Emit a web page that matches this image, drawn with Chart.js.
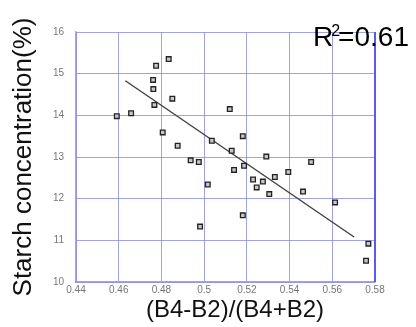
<!DOCTYPE html>
<html>
<head>
<meta charset="utf-8">
<script src="https://cdn.jsdelivr.net/npm/chart.js@4"></script>
<style>
  html, body { margin: 0; padding: 0; background: #fff; }
  #wrap { width: 416px; height: 327px; }
</style>
</head>
<body>
<div id="wrap"><canvas id="canvas-scatter"></canvas></div>
<script>
// ratio values
const ndiX = [0.4591, 0.4658, 0.4775, 0.4834, 0.4761, 0.4762, 0.4767, 0.4851, 0.4806, 0.4876,
  0.4937, 0.4975, 0.5036, 0.5120, 0.5129, 0.5181, 0.5187, 0.5140, 0.5017, 0.5229,
  0.5246, 0.5181, 0.4981, 0.5291, 0.5501, 0.5394, 0.5331, 0.5275, 0.5305, 0.5463,
  0.5613, 0.5769, 0.5758];
const starchY = [13.98, 14.05, 15.19, 15.35, 14.85, 14.63, 14.25, 14.40, 13.59, 13.27,
  12.92, 12.88, 13.39, 14.15, 13.15, 13.50, 12.79, 12.69, 12.34, 12.46,
  12.27, 11.60, 11.33, 13.01, 12.88, 12.64, 12.52, 12.41, 12.11, 12.17,
  11.91, 10.92, 10.51];
const trendX = [0.4631, 0.5702];
const trendY = [14.83, 11.08];
const xTickLabels = ["0.44", "0.46", "0.48", "0.5", "0.52", "0.54", "0.56", "0.58"];
const yTickLabels = ["10", "11", "12", "13", "14", "15", "16"];
const xTitle = "(B4-B2)/(B4+B2)";
const rSquaredValue = "=0.61";

const gridColor = "rgba(130, 130, 230, 0.75)";
const fontFamily = "'Liberation Sans', Arial, sans-serif";

const frameAndLabel = {
  id: "frameAndLabel",
  afterDraw(chart) {
    const { ctx, chartArea } = chart;
    ctx.save();
    // stronger right edge of the frame
    ctx.strokeStyle = "#5a5af0";
    ctx.lineWidth = 2;
    ctx.beginPath();
    ctx.moveTo(chartArea.right, chartArea.top);
    ctx.lineTo(chartArea.right, chartArea.bottom);
    ctx.stroke();

    // x axis title, a little right of the plot centre as in the original
    ctx.fillStyle = "#111";
    ctx.font = "24px " + fontFamily;
    ctx.textAlign = "center";
    ctx.textBaseline = "alphabetic";
    ctx.fillText(xTitle, 235, 317);

    // R² label over the top right corner
    ctx.fillStyle = "#000";
    ctx.textAlign = "left";
    let x = 313;
    const base = chartArea.top + 14;
    ctx.font = "28px " + fontFamily;
    ctx.fillText("R", x, base);
    x += ctx.measureText("R").width - 2;
    ctx.font = "16px " + fontFamily;
    ctx.fillText("2", x, base - 10);
    x += ctx.measureText("2").width - 2;
    ctx.font = "28px " + fontFamily;
    ctx.fillText(rSquaredValue, x, base);
    ctx.restore();
  },
};

const ctx = document.getElementById("canvas-scatter").getContext("2d");
new Chart(ctx, {
  type: "scatter",
  data: {
    datasets: [
      {
        data: ndiX.map((x, i) => ({ x: x, y: starchY[i] })),
        pointStyle: "rect",
        pointRadius: 3.3,
        pointBackgroundColor: "#c8c8c8",
        pointBorderColor: "#222",
        pointBorderWidth: 1.3,
      },
      {
        type: "line",
        data: trendX.map((x, i) => ({ x: x, y: trendY[i] })),
        borderColor: "#444",
        borderWidth: 1.5,
        pointRadius: 0,
        fill: false,
      },
    ],
  },
  options: {
    responsive: true,
    maintainAspectRatio: false,
    animation: false,
    layout: { padding: { top: 32, right: 41, left: 0, bottom: 0 } },
    plugins: { legend: { display: false }, tooltip: { enabled: false } },
    scales: {
      x: {
        type: "linear",
        min: 0.44,
        max: 0.58,
        afterBuildTicks: (scale) => {
          scale.ticks = xTickLabels.map((t) => ({ value: parseFloat(t) }));
        },
        afterFit: (scale) => { scale.height = 45; },
        ticks: {
          color: "#777",
          font: { size: 10, family: fontFamily },
          padding: 2,
          callback: (v, i) => xTickLabels[i],
        },
        grid: { color: gridColor, drawTicks: false, lineWidth: 1 },
        border: { color: gridColor, width: 1.5 },
      },
      y: {
        min: 10,
        max: 16,
        afterBuildTicks: (scale) => {
          scale.ticks = yTickLabels.map((t) => ({ value: parseFloat(t) }));
        },
        afterFit: (scale) => { scale.width = 76; },
        ticks: {
          color: "#777",
          font: { size: 10, family: fontFamily },
          padding: 12,
          callback: (v, i) => yTickLabels[i],
        },
        grid: { color: gridColor, drawTicks: false, lineWidth: 1 },
        border: { color: gridColor, width: 1.5 },
        title: {
          display: true,
          text: "Starch concentration(%)",
          color: "#111",
          font: { size: 26, family: fontFamily },
          padding: { top: 8, bottom: 0 },
        },
      },
    },
  },
  plugins: [frameAndLabel],
});
</script>
</body>
</html>
